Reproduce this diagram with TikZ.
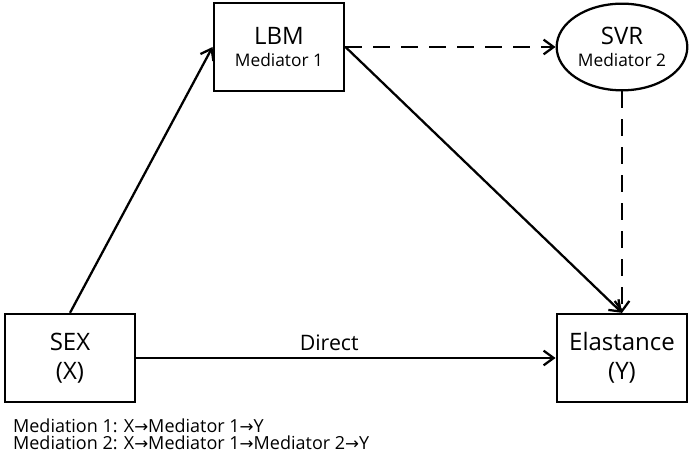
\documentclass[tikz,border=0pt]{standalone}
\usepackage{fontspec}
\setmainfont{Open Sans}
\newfontfamily\arrowfont{DejaVu Sans}
\usetikzlibrary{arrows.meta,shapes.geometric}

\newcommand{\bigtxt}{\fontsize{18}{21}\selectfont}
\newcommand{\medarrow}{{\arrowfont\fontsize{12.5}{14}\selectfont →}}

\begin{document}
\begin{tikzpicture}[x=0.75pt,y=-0.75pt,line width=1.7pt,
  varbox/.style={draw,rectangle,minimum width=98pt,minimum height=66pt,align=center,inner sep=0pt},
  varell/.style={draw,ellipse,minimum width=98pt,minimum height=65pt,align=center,inner sep=0pt},
  medfont/.style={font=\fontsize{13}{16.5}\selectfont},
  endfont/.style={font=\fontsize{18}{22}\selectfont},
  path/.style={-{Straight Barb[length=7.5pt,width=11pt,line width=1.7pt]}},
  dpath/.style={path,dash pattern=on 12.5pt off 8.5pt}]
\useasboundingbox (0,0) rectangle (693,459);

\node[varbox,medfont] (lbm) at (279,47) {{\bigtxt LBM}\\Mediator 1};
\node[varell,medfont] (svr) at (622,47) {{\bigtxt SVR}\\Mediator 2};
\node[varbox,endfont] (sex) at (70,358) {SEX\\(X)};
\node[varbox,endfont] (ela) at (622,358) {Elastance\\(Y)};

% paths
\draw[path] (sex.north) -- (lbm.west);
\draw[path] (lbm.east) -- (ela.north);
\draw[dpath] (lbm.east) -- (svr.west);
\draw[dpath] (svr.south) -- (ela.north);
\draw[path] (sex.east) -- (ela.west) node[above=1pt,pos=0.46,font=\fontsize{16}{19}\selectfont] (direct) {Direct};

\node[anchor=base west,inner sep=0pt,font=\fontsize{13.5}{16}\selectfont] (note1) at (12,433)
  {Mediation 1: X\medarrow Mediator 1\medarrow Y};
\node[anchor=base west,inner sep=0pt,font=\fontsize{13.5}{16}\selectfont] (note2) at (12,450)
  {Mediation 2: X\medarrow Mediator 1\medarrow Mediator 2\medarrow Y};
\end{tikzpicture}
\end{document}
